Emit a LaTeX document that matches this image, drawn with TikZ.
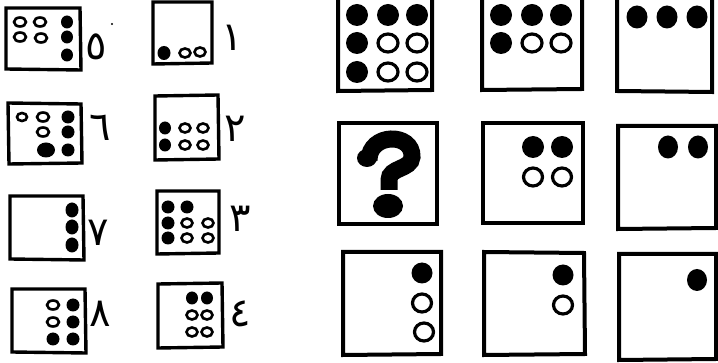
\documentclass[tikz,border=0pt]{standalone}
\usepackage{fontspec}
\newfontfamily\digitfont[Script=Arabic]{DejaVu Sans}
\begin{document}
\begin{tikzpicture}[x=1pt,y=-1pt,
  frame/.style={draw=black,line width=4pt,line join=miter},
  sframe/.style={draw=black,line width=3.4pt,line join=miter},
  bigf/.style={fill=black},
  bigo/.style={draw=black,line width=3.2pt},
  smf/.style={fill=black},
  smo/.style={draw=black,line width=2.6pt},
  qstroke/.style={draw=black,line width=17pt,line cap=butt},
  lab/.style={font=\digitfont\fontsize{40}{40}\selectfont,inner sep=0pt}]
\useasboundingbox (0,0) rectangle (718,363);
\clip (0,0) rectangle (718,363);
\fill[white] (0,0) rectangle (718,363);

% ---------- right grid ----------
% row 1
\draw[frame] (338,-10) -- (338,91) -- (432,90) -- (432,-10);
\draw[frame] (482,-10) -- (482,90) -- (582,89) -- (582,-10);
\draw[frame] (617,-10) -- (617,91) -- (712,92) -- (712,-10);
\foreach \x/\y in {357/15,388/15,417/15,357/43,357/72}
  \path[bigf] (\x,\y) circle[radius=11];
\foreach \x/\y in {388/43,417/43,388/72,417/72}
  \draw[bigo] (\x,\y) ellipse[x radius=10,y radius=9];
\foreach \x/\y in {501/15,532/15,561/15,501/43}
  \path[bigf] (\x,\y) circle[radius=11];
\foreach \x/\y in {532/43,561/43}
  \draw[bigo] (\x,\y) ellipse[x radius=10,y radius=9];
\foreach \x/\y in {637/17,667/17,697/17}
  \path[bigf] (\x,\y) ellipse[x radius=10.5,y radius=11.5];

% row 2
\draw[frame] (339,123) rectangle (437,224);
\draw[frame] (483,123) rectangle (583,223);
\draw[frame] (618,126) -- (618,229) -- (716,228) -- (716,126) -- cycle;
% hand-drawn question mark
\draw[qstroke] (369,160) .. controls (369,133) and (413,132) .. (412,157)
  .. controls (411,170) and (389,167) .. (389,180) -- (389,190);
\path[bigf] (367,158) ellipse[x radius=10,y radius=9];
\path[bigf] (388,206) ellipse[x radius=15,y radius=12];
\foreach \x/\y in {533/147,562/147}
  \path[bigf] (\x,\y) circle[radius=11];
\foreach \x/\y in {533/177,562/177}
  \draw[bigo] (\x,\y) ellipse[x radius=9.5,y radius=9];
\foreach \x/\y in {668/147,698/147}
  \path[bigf] (\x,\y) ellipse[x radius=10,y radius=11.5];

% row 3
\draw[frame] (343,252) -- (343,355) -- (441,354) -- (441,252) -- cycle;
\draw[frame] (484,252) -- (484,355) -- (585,354) -- (584,253) -- cycle;
\draw[frame] (619,254) -- (619,360) -- (716,359) -- (716,254) -- cycle;
\path[bigf] (422,273) circle[radius=10.5];
\draw[bigo] (422,303) ellipse[x radius=9.5,y radius=9];
\draw[bigo] (424,332) ellipse[x radius=9.5,y radius=9];
\path[bigf] (563,275) circle[radius=10.5];
\draw[bigo] (563,305) ellipse[x radius=9.5,y radius=9];
\path[bigf] (697,280) ellipse[x radius=10,y radius=11];

% ---------- left answer options ----------
% 5
\draw[sframe] (6,8) -- (6,69) -- (81,70) -- (80,8) -- cycle;
\foreach \x/\y in {20/22,40/22,20/37,41/38}
  \draw[smo] (\x,\y) ellipse[x radius=6,y radius=4.5];
\foreach \x/\y in {67/22,67/37,67/55}
  \path[smf] (\x,\y) ellipse[x radius=6,y radius=6.5];
\node[lab] (l5) at (96,47) {٥};
\fill (112,24) circle[radius=1.2];

% 1
\draw[sframe] (153,2) -- (153,64) -- (212,63) -- (212,2) -- cycle;
\path[smf] (164,53) ellipse[x radius=6.5,y radius=7];
\draw[smo] (185,53) ellipse[x radius=5.5,y radius=4.5];
\draw[smo] (200,52) ellipse[x radius=5.5,y radius=4.5];
\node[lab] (l1) at (232,38) {١};

% 6
\draw[sframe] (8,103) -- (9,164) -- (82,163) -- (81,104) -- cycle;
\draw[smo] (22,117) ellipse[x radius=5,y radius=4];
\draw[smo] (43,117) ellipse[x radius=6,y radius=4.5];
\draw[smo] (43,132) ellipse[x radius=6,y radius=4.5];
\foreach \x/\y in {68/117,68/132,68/150}
  \path[smf] (\x,\y) ellipse[x radius=6.5,y radius=6.5];
\path[smf] (46,150) ellipse[x radius=9,y radius=7.5];
\node[lab] (l6) at (100,128) {٦};

% 2
\draw[sframe] (155,96) -- (155,160) -- (219,159) -- (218,95) -- cycle;
\foreach \x/\y in {165/128,165/145}
  \path[smf] (\x,\y) ellipse[x radius=6,y radius=6.5];
\foreach \x/\y in {185/128,185/145,203/128,203/145}
  \draw[smo] (\x,\y) ellipse[x radius=5.5,y radius=4.5];
\node[lab] (l2) at (235,129) {٢};

% 7
\draw[sframe] (10,196) -- (10,259) -- (84,260) -- (83,196) -- cycle;
\foreach \y in {210,227,245}
  \path[smf] (72,\y) ellipse[x radius=6.5,y radius=7.5];
\node[lab] (l7) at (98,233) {٧};

% 3
\draw[sframe] (157,191) -- (157,254) -- (219,253) -- (219,191) -- cycle;
\foreach \x/\y in {168/207,187/207,168/223,168/238}
  \path[smf] (\x,\y) ellipse[x radius=6.5,y radius=6.5];
\foreach \x/\y in {187/223,208/223,187/238,208/238}
  \draw[smo] (\x,\y) ellipse[x radius=5.5,y radius=4.5];
\node[lab] (l3) at (240,219) {٣};

% 8
\draw[sframe] (12,289) -- (12,352) -- (86,353) -- (85,289) -- cycle;
\draw[smo] (53,305) ellipse[x radius=6,y radius=4.5];
\draw[smo] (53,322) ellipse[x radius=6,y radius=4.5];
\foreach \x/\y in {73/305,73/322,53/339,73/339}
  \path[smf] (\x,\y) ellipse[x radius=6.5,y radius=6.5];
\node[lab] (l8) at (100,314) {٨};

% 4
\draw[sframe] (158,284) -- (158,348) -- (223,347) -- (222,283) -- cycle;
\foreach \x/\y in {192/298,207/298}
  \path[smf] (\x,\y) ellipse[x radius=6,y radius=6.5];
\foreach \x/\y in {192/315,207/315,192/332,207/332}
  \draw[smo] (\x,\y) ellipse[x radius=5.5,y radius=4.5];
\node[lab] (l4) at (240,314) {٤};
\end{tikzpicture}
\end{document}
